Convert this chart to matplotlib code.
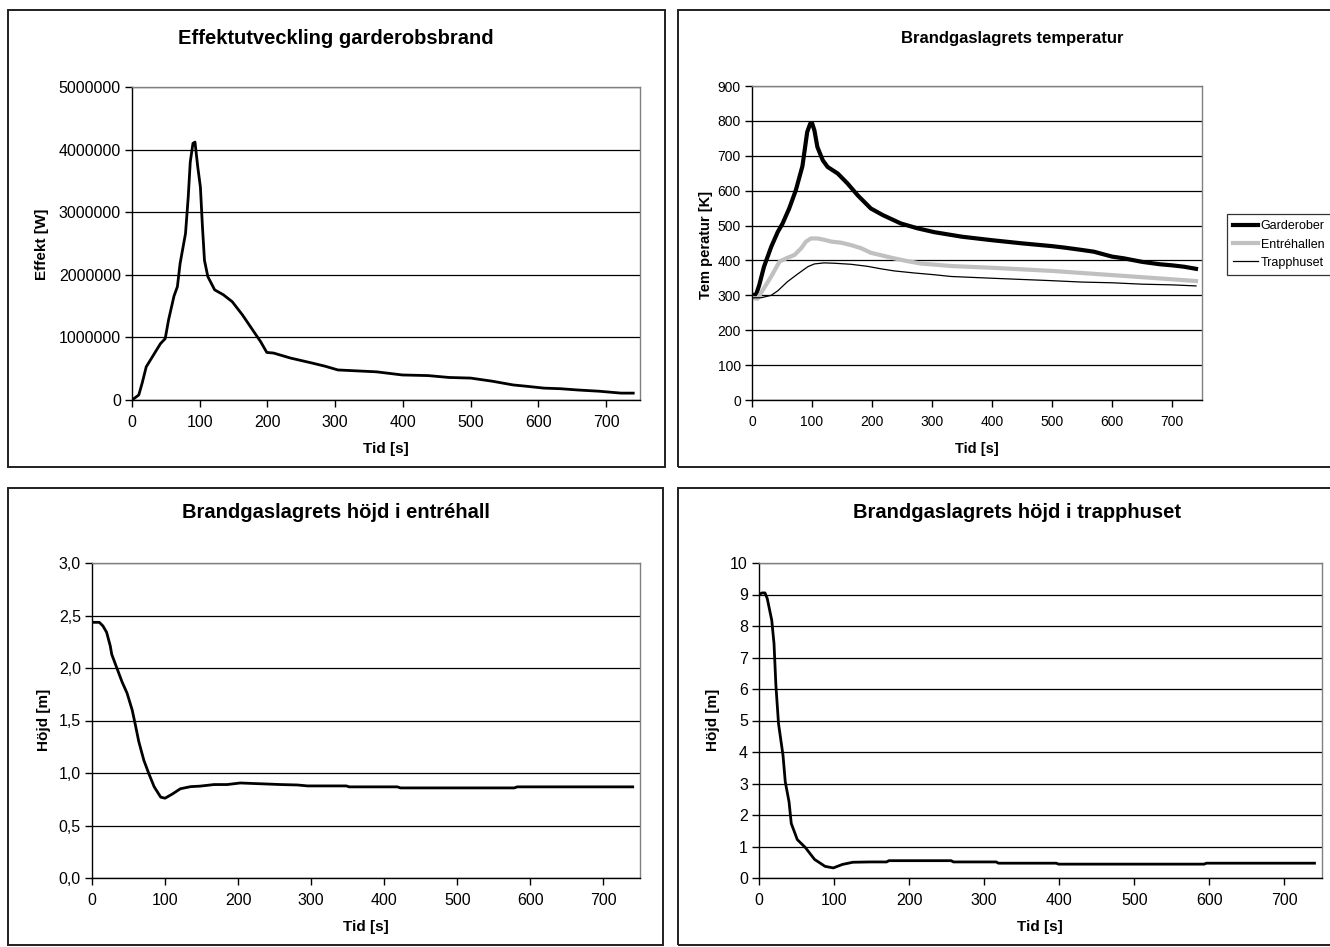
import numpy as np
import matplotlib
matplotlib.use("Agg")
import matplotlib.pyplot as plt
from matplotlib.patches import Rectangle
from matplotlib.ticker import FuncFormatter

plt.rcParams['font.family'] = ['Liberation Sans', 'DejaVu Sans']

# --- Effektutveckling garderobsbrand ---
t_eff = [0, 10, 15, 21, 42, 49, 54, 62, 67, 71, 79, 83, 86, 90, 93, 97, 101, 104, 107,
         112, 122, 135, 148, 163, 190, 199, 209, 234, 266, 285, 304, 323, 361, 399, 437,
         468, 500, 532, 563, 582, 608, 633, 658, 690, 722, 740]
effekt = [0, 0.08, 0.27, 0.53, 0.90, 0.98, 1.28, 1.66, 1.81, 2.18, 2.66, 3.24, 3.80, 4.10,
          4.12, 3.73, 3.40, 2.77, 2.23, 1.97, 1.76, 1.68, 1.57, 1.36, 0.93, 0.76, 0.75,
          0.67, 0.59, 0.54, 0.48, 0.47, 0.45, 0.40, 0.39, 0.36, 0.35, 0.30, 0.24, 0.22,
          0.19, 0.18, 0.16, 0.14, 0.11, 0.11]
effekt = [v * 1e6 for v in effekt]

# --- Brandgaslagrets temperatur ---
t_gard = [0, 7, 12, 20, 32, 43, 51, 62, 73, 84, 92, 97, 100, 104, 109, 118, 126, 143, 159,
          176, 198, 218, 248, 276, 304, 350, 400, 450, 500, 520, 550, 570, 600, 620, 650,
          680, 700, 720, 740]
T_gard = [300, 303, 329, 382, 439, 482, 506, 549, 601, 670, 768, 792, 794, 773, 725, 687,
          668, 649, 621, 587, 549, 530, 506, 492, 481, 468, 458, 449, 441, 437, 430, 425,
          411, 406, 396, 389, 386, 382, 376]
t_entre = [0, 9, 18, 32, 46, 57, 71, 82, 90, 98, 109, 121, 132, 148, 165, 182, 198, 215,
           237, 259, 282, 304, 332, 400, 500, 600, 700, 740]
T_entre = [293, 290, 315, 354, 397, 406, 416, 435, 454, 463, 463, 459, 454, 451, 444, 435,
           422, 415, 406, 398, 391, 388, 384, 379, 370, 358, 346, 341]
t_trapp = [0, 15, 32, 43, 59, 76, 93, 104, 120, 137, 165, 193, 215, 237, 271, 304, 332,
           400, 500, 550, 600, 650, 700, 740]
T_trapp = [293, 293, 300, 313, 339, 361, 382, 390, 393, 392, 389, 383, 376, 370, 364, 359,
           354, 349, 342, 338, 336, 332, 330, 327]
serie_namn = ['Garderober', 'Entréhallen', 'Trapphuset']

# --- Brandgaslagrets höjd i entréhall ---
t_hall = [0, 10, 15, 20, 25, 27, 34, 41, 48, 55, 59, 64, 71, 78, 85, 94, 100, 110, 121,
          135, 148, 167, 185, 203, 221, 240, 258, 281, 295, 348, 352, 418, 422, 578, 582, 740]
h_hall = [2.435, 2.435, 2.40, 2.34, 2.21, 2.13, 2.00, 1.87, 1.76, 1.60, 1.47, 1.30, 1.12,
          0.99, 0.87, 0.77, 0.76, 0.80, 0.85, 0.87, 0.875, 0.89, 0.89, 0.905, 0.90, 0.895,
          0.89, 0.886, 0.877, 0.877, 0.868, 0.868, 0.858, 0.858, 0.868, 0.868]

# --- Brandgaslagrets höjd i trapphuset ---
t_trh = [0, 4, 8, 11, 17, 20, 22.5, 26, 32, 35, 40, 43, 51, 62, 74, 88, 99, 111, 125, 148,
         170, 173, 256, 259, 316, 319, 396, 399, 593, 596, 740]
h_trh = [9.0, 9.05, 9.05, 8.87, 8.18, 7.44, 6.12, 4.90, 3.89, 3.05, 2.42, 1.73, 1.22, 0.96,
         0.59, 0.37, 0.32, 0.43, 0.50, 0.51, 0.51, 0.55, 0.55, 0.51, 0.51, 0.47, 0.47, 0.44,
         0.44, 0.47, 0.47]

x_ticks = [0, 100, 200, 300, 400, 500, 600, 700]

W, H = 1330, 947
fig = plt.figure(figsize=(W / 100, H / 100), dpi=100)


def px_axes(left, top, right, bottom):
    return fig.add_axes([left / W, 1 - bottom / H, (right - left) / W, (bottom - top) / H])


def frame(x0, y0, x1, y1):
    fig.patches.append(Rectangle((x0 / W, 1 - y1 / H), (x1 - x0) / W, (y1 - y0) / H,
                                 transform=fig.transFigure, fill=False,
                                 edgecolor='#202020', linewidth=1.4))


def style(ax, ylim, yticks, fs=11.5):
    ax.set_xlim(0, 750)
    ax.set_ylim(*ylim)
    ax.set_xticks(x_ticks)
    ax.set_yticks(yticks)
    ax.yaxis.grid(True, color='black', linewidth=0.9)
    ax.set_axisbelow(True)
    for s in ['top', 'right']:
        ax.spines[s].set_color('#808080')
        ax.spines[s].set_linewidth(1.0)
    for s in ['left', 'bottom']:
        ax.spines[s].set_color('black')
        ax.spines[s].set_linewidth(1.0)
    ax.tick_params(direction='out', length=5, width=1, labelsize=fs)
    ax.tick_params(axis='x', pad=6)
    ax.tick_params(axis='y', pad=3)


# frames
frame(8, 10, 665, 467)
frame(678, 10, 1345, 467)
frame(8, 488, 663, 945)
frame(678, 488, 1345, 945)

# panel 1
ax1 = px_axes(132, 87, 640, 400)
ax1.plot(t_eff, effekt, color='black', linewidth=2)
style(ax1, (0, 5000000), [0, 1000000, 2000000, 3000000, 4000000, 5000000])
ax1.yaxis.set_major_formatter(FuncFormatter(lambda v, p: '%d' % v))
fig.text(336 / W, 1 - 38 / H, 'Effektutveckling garderobsbrand', ha='center', va='center',
         fontsize=14.5, fontweight='bold')
fig.text(386 / W, 1 - 449 / H, 'Tid [s]', ha='center', va='center', fontsize=11, fontweight='bold')
fig.text(42 / W, 1 - 244 / H, 'Effekt [W]', ha='center', va='center', rotation=90,
         fontsize=11, fontweight='bold')

# panel 2
ax2 = px_axes(752, 86, 1202, 400)
l1, = ax2.plot(t_gard, T_gard, color='black', linewidth=3)
l2, = ax2.plot(t_entre, T_entre, color='#c0c0c0', linewidth=3)
l3, = ax2.plot(t_trapp, T_trapp, color='black', linewidth=0.9)
style(ax2, (0, 900), list(range(0, 901, 100)), fs=10)
fig.text(1012 / W, 1 - 38 / H, 'Brandgaslagrets temperatur', ha='center', va='center',
         fontsize=12, fontweight='bold')
fig.text(977 / W, 1 - 449 / H, 'Tid [s]', ha='center', va='center', fontsize=10.5,
         fontweight='bold')
fig.text(706 / W, 1 - 245 / H, 'Tem peratur [K]', ha='center', va='center', rotation=90,
         fontsize=10.5, fontweight='bold')
leg = fig.legend([l1, l2, l3], serie_namn, loc='upper left',
                 bbox_to_anchor=(1227 / W, 1 - 214 / H), frameon=True, fancybox=False,
                 edgecolor='black', handlelength=2.0, handletextpad=0.2,
                 borderpad=0.5, labelspacing=0.5, borderaxespad=0,
                 prop={'size': 9})
leg.get_frame().set_linewidth(0.9)

# panel 3
ax3 = px_axes(92, 563, 640, 878)
ax3.plot(t_hall, h_hall, color='black', linewidth=2)
style(ax3, (0, 3.0), [0, 0.5, 1.0, 1.5, 2.0, 2.5, 3.0])
ax3.yaxis.set_major_formatter(FuncFormatter(lambda v, p: ('%.1f' % v).replace('.', ',')))
fig.text(336 / W, 1 - 512 / H, 'Brandgaslagrets höjd i entréhall', ha='center', va='center',
         fontsize=14.5, fontweight='bold')
fig.text(366 / W, 1 - 927 / H, 'Tid [s]', ha='center', va='center', fontsize=11, fontweight='bold')
fig.text(44 / W, 1 - 720 / H, 'Höjd [m]', ha='center', va='center', rotation=90,
         fontsize=11, fontweight='bold')

# panel 4
ax4 = px_axes(759, 563, 1322, 878)
ax4.plot(t_trh, h_trh, color='black', linewidth=2)
style(ax4, (0, 10), list(range(0, 11)))
fig.text(1017 / W, 1 - 512 / H, 'Brandgaslagrets höjd i trapphuset', ha='center', va='center',
         fontsize=14.5, fontweight='bold')
fig.text(1040 / W, 1 - 927 / H, 'Tid [s]', ha='center', va='center', fontsize=11, fontweight='bold')
fig.text(713 / W, 1 - 720 / H, 'Höjd [m]', ha='center', va='center', rotation=90,
         fontsize=11, fontweight='bold')

fig.savefig('out.png', dpi=100, facecolor='white')
